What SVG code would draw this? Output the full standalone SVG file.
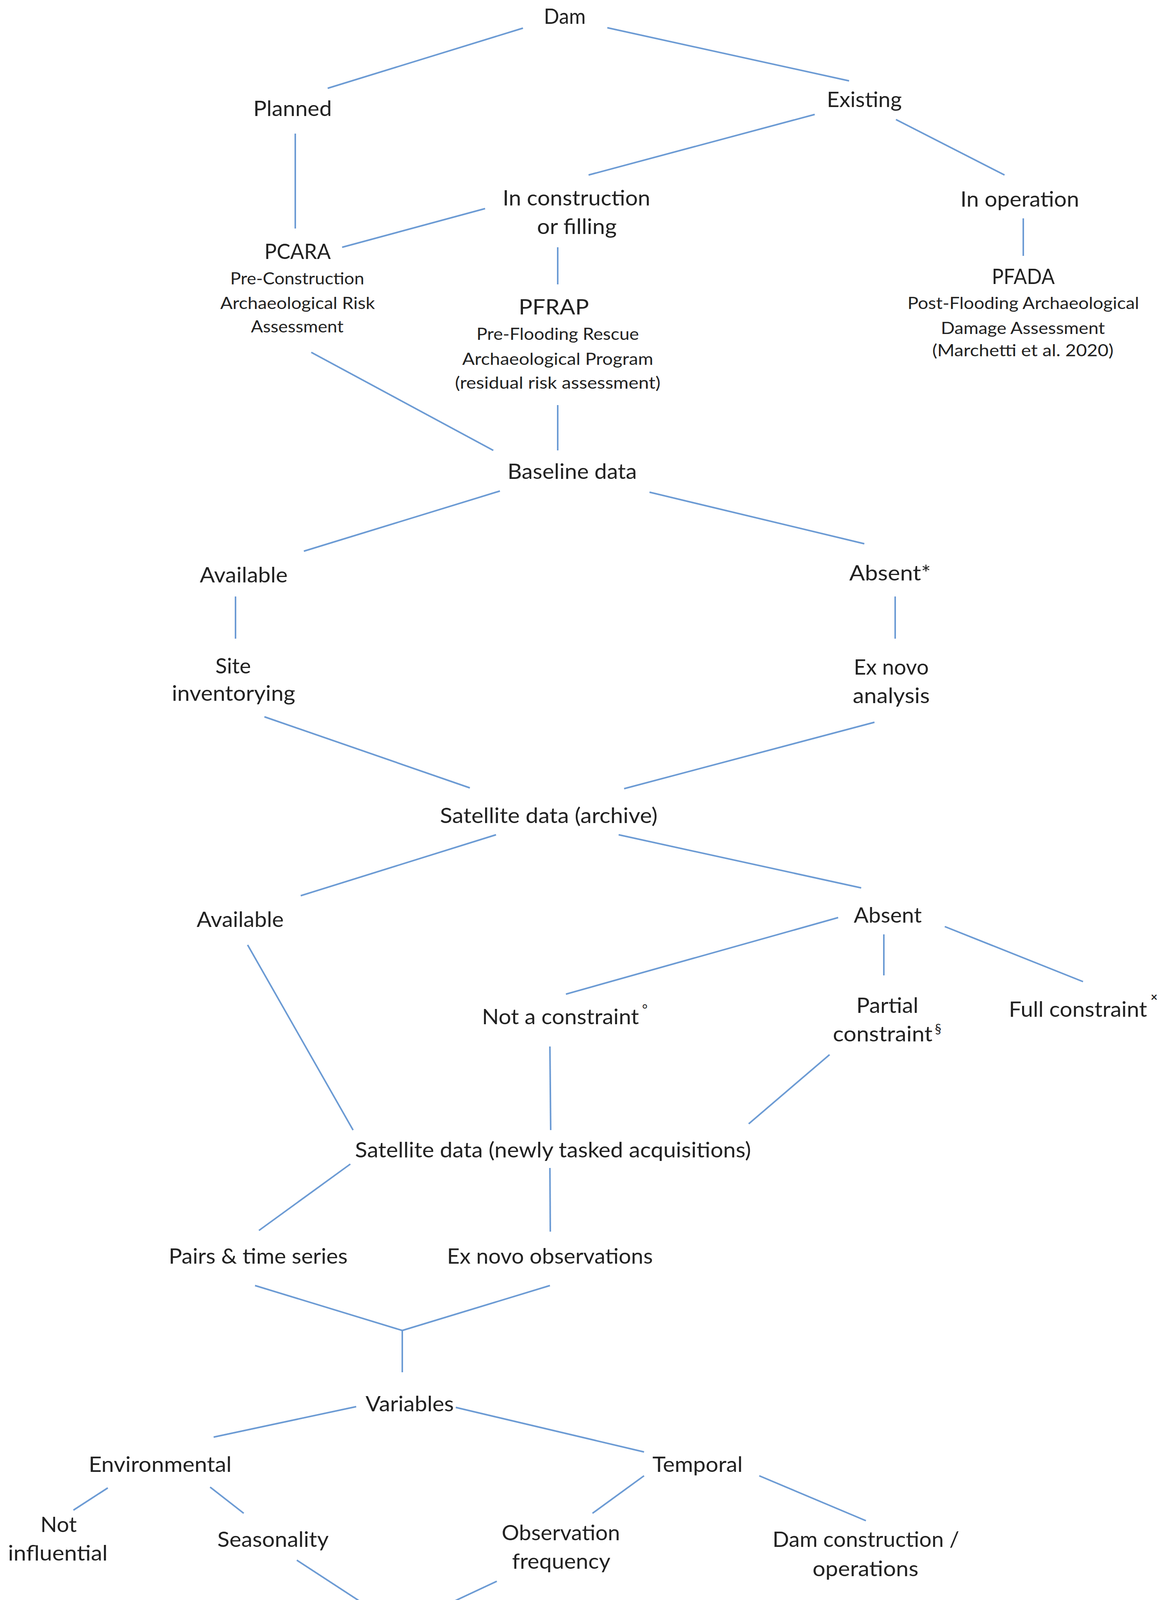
<svg xmlns="http://www.w3.org/2000/svg" width="2988" height="4940" viewBox="0 0 2988 4940">
<style>
.t{font-family:Lato,"Liberation Sans",sans-serif;font-size:54px;fill:#222;text-anchor:middle}
.s{font-size:43px}
.sup{font-family:Lato,"Liberation Sans",sans-serif;font-size:34px;fill:#222;text-anchor:middle}
.c line{stroke:#6c9bd4;stroke-width:4;stroke-linecap:butt;fill:none}
</style>
<rect width="2988" height="4940" fill="#fff"/>
<g id="connectors" class="c">
<line x1="1339" y1="72" x2="839" y2="226"/>
<line x1="1555" y1="71" x2="2174" y2="207"/>
<line x1="756" y1="342" x2="756" y2="585"/>
<line x1="2086" y1="293" x2="1507" y2="448"/>
<line x1="2294" y1="306" x2="2572" y2="448"/>
<line x1="1242" y1="534" x2="876" y2="633"/>
<line x1="1428" y1="633" x2="1428" y2="728"/>
<line x1="2620" y1="559" x2="2620" y2="655"/>
<line x1="797" y1="902" x2="1263" y2="1153"/>
<line x1="1428" y1="1037" x2="1428" y2="1153"/>
<line x1="1280" y1="1257" x2="778" y2="1411"/>
<line x1="1663" y1="1260" x2="2213" y2="1392"/>
<line x1="603" y1="1527" x2="603" y2="1635"/>
<line x1="2292" y1="1527" x2="2292" y2="1635"/>
<line x1="677" y1="1835" x2="1203" y2="2017"/>
<line x1="2239" y1="1849" x2="1598" y2="2019"/>
<line x1="1270" y1="2137" x2="770" y2="2293"/>
<line x1="1584" y1="2137" x2="2205" y2="2273"/>
<line x1="634" y1="2419" x2="904" y2="2893"/>
<line x1="2146" y1="2349" x2="1449" y2="2545"/>
<line x1="2263" y1="2392" x2="2263" y2="2497"/>
<line x1="2419" y1="2372" x2="2773" y2="2513"/>
<line x1="1408" y1="2679" x2="1410" y2="2893"/>
<line x1="2124" y1="2700" x2="1917" y2="2877"/>
<line x1="897" y1="2980" x2="663" y2="3150"/>
<line x1="1408" y1="2990" x2="1409" y2="3153"/>
<line x1="653" y1="3291" x2="1030" y2="3406"/>
<line x1="1408" y1="3291" x2="1030" y2="3406"/>
<line x1="1030" y1="3406" x2="1030" y2="3513"/>
<line x1="912" y1="3601" x2="547" y2="3679"/>
<line x1="1167" y1="3603" x2="1649" y2="3717"/>
<line x1="276" y1="3809" x2="188" y2="3866"/>
<line x1="538" y1="3807" x2="624" y2="3874"/>
<line x1="1649" y1="3778" x2="1517" y2="3874"/>
<line x1="1944" y1="3778" x2="2217" y2="3893"/>
<line x1="760" y1="3994" x2="1022" y2="4165"/>
<line x1="1272" y1="4048" x2="1022" y2="4165"/>
<line x1="1022" y1="4165" x2="1022" y2="4271"/>
<line x1="1022" y1="4357" x2="1022" y2="4462"/>
<line x1="1378" y1="4573" x2="1746" y2="4573"/>
<line x1="1022" y1="4659" x2="1022" y2="4766"/>
</g>
<g id="n-dam"><text class="t" x="1446" y="61" textLength="107" lengthAdjust="spacingAndGlyphs">Dam</text></g>
<g id="n-planned"><text class="t" x="749" y="297" textLength="201" lengthAdjust="spacingAndGlyphs">Planned</text></g>
<g id="n-existing"><text class="t" x="2213" y="274" textLength="192" lengthAdjust="spacingAndGlyphs">Existing</text></g>
<g id="n-inconstruction">
<text class="t" x="1476" y="526" textLength="378" lengthAdjust="spacingAndGlyphs">In construction</text>
<text class="t" x="1477" y="599" textLength="204" lengthAdjust="spacingAndGlyphs">or filling</text>
</g>
<g id="n-inoperation"><text class="t" x="2611" y="529" textLength="304" lengthAdjust="spacingAndGlyphs">In operation</text></g>
<g id="n-pcara">
<text class="t" x="762" y="663" textLength="170" lengthAdjust="spacingAndGlyphs">PCARA</text>
<text class="t s" x="761" y="728" textLength="343" lengthAdjust="spacingAndGlyphs">Pre-Construction</text>
<text class="t s" x="762" y="791" textLength="396" lengthAdjust="spacingAndGlyphs">Archaeological Risk</text>
<text class="t s" x="761" y="851" textLength="237" lengthAdjust="spacingAndGlyphs">Assessment</text>
</g>
<g id="n-pfrap">
<text class="t" x="1418" y="805" textLength="180" lengthAdjust="spacingAndGlyphs">PFRAP</text>
<text class="t s" x="1428" y="870" textLength="416" lengthAdjust="spacingAndGlyphs">Pre-Flooding Rescue</text>
<text class="t s" x="1428" y="934" textLength="489" lengthAdjust="spacingAndGlyphs">Archaeological Program</text>
<text class="t s" x="1428" y="995" textLength="526" lengthAdjust="spacingAndGlyphs">(residual risk assessment)</text>
</g>
<g id="n-pfada">
<text class="t" x="2620" y="727" textLength="161" lengthAdjust="spacingAndGlyphs">PFADA</text>
<text class="t s" x="2620" y="791" textLength="593" lengthAdjust="spacingAndGlyphs">Post-Flooding Archaeological</text>
<text class="t s" x="2619" y="855" textLength="420" lengthAdjust="spacingAndGlyphs">Damage Assessment</text>
<text class="t s" x="2619" y="912" textLength="464" lengthAdjust="spacingAndGlyphs">(Marchetti et al. 2020)</text>
</g>
<g id="n-baseline"><text class="t" x="1465" y="1226" textLength="331" lengthAdjust="spacingAndGlyphs">Baseline data</text></g>
<g id="n-available1"><text class="t" x="624" y="1491" textLength="225" lengthAdjust="spacingAndGlyphs">Available</text></g>
<g id="n-absent1"><text class="t" x="2279" y="1486" textLength="209" lengthAdjust="spacingAndGlyphs">Absent*</text></g>
<g id="n-site">
<text class="t" x="597" y="1724" textLength="91" lengthAdjust="spacingAndGlyphs">Site</text>
<text class="t" x="598" y="1794" textLength="316" lengthAdjust="spacingAndGlyphs">inventorying</text>
</g>
<g id="n-exnovo">
<text class="t" x="2282" y="1727" textLength="192" lengthAdjust="spacingAndGlyphs">Ex novo</text>
<text class="t" x="2282" y="1800" textLength="197" lengthAdjust="spacingAndGlyphs">analysis</text>
</g>
<g id="n-satarchive"><text class="t" x="1405" y="2107" textLength="557" lengthAdjust="spacingAndGlyphs">Satellite data (archive)</text></g>
<g id="n-available2"><text class="t" x="615" y="2373" textLength="223" lengthAdjust="spacingAndGlyphs">Available</text></g>
<g id="n-absent2"><text class="t" x="2273" y="2362" textLength="174" lengthAdjust="spacingAndGlyphs">Absent</text></g>
<g id="n-notconstraint">
<text class="t" x="1435" y="2622" textLength="402" lengthAdjust="spacingAndGlyphs">Not a constraint</text>
<text class="sup" x="1651" y="2596">°</text>
</g>
<g id="n-partial">
<text class="t" x="2272" y="2593" textLength="159" lengthAdjust="spacingAndGlyphs">Partial</text>
<text class="t" x="2260" y="2666" textLength="255" lengthAdjust="spacingAndGlyphs">constraint</text>
<text class="sup" x="2402" y="2646">§</text>
</g>
<g id="n-full">
<text class="t" x="2760" y="2603" textLength="354" lengthAdjust="spacingAndGlyphs">Full constraint</text>
<text class="sup" x="2955" y="2563" style="font-size:30px;font-weight:bold">×</text>
</g>
<g id="n-satnew"><text class="t" x="1416" y="2963" textLength="1014" lengthAdjust="spacingAndGlyphs">Satellite data (newly tasked acquisitions)</text></g>
<g id="n-pairs"><text class="t" x="661" y="3235" textLength="458" lengthAdjust="spacingAndGlyphs">Pairs &amp; time series</text></g>
<g id="n-exnovoobs"><text class="t" x="1408" y="3235" textLength="527" lengthAdjust="spacingAndGlyphs">Ex novo observations</text></g>
<g id="n-variables"><text class="t" x="1049" y="3613" textLength="226" lengthAdjust="spacingAndGlyphs">Variables</text></g>
<g id="n-environmental"><text class="t" x="410" y="3768" textLength="366" lengthAdjust="spacingAndGlyphs">Environmental</text></g>
<g id="n-temporal"><text class="t" x="1786" y="3768" textLength="231" lengthAdjust="spacingAndGlyphs">Temporal</text></g>
<g id="n-notinfluential">
<text class="t" x="150" y="3922" textLength="93" lengthAdjust="spacingAndGlyphs">Not</text>
<text class="t" x="148" y="3995" textLength="255" lengthAdjust="spacingAndGlyphs">influential</text>
</g>
<g id="n-seasonality"><text class="t" x="699" y="3960" textLength="285" lengthAdjust="spacingAndGlyphs">Seasonality</text></g>
<g id="n-obsfreq">
<text class="t" x="1436" y="3943" textLength="303" lengthAdjust="spacingAndGlyphs">Observation</text>
<text class="t" x="1437" y="4016" textLength="252" lengthAdjust="spacingAndGlyphs">frequency</text>
</g>
<g id="n-damconstr">
<text class="t" x="2217" y="3960" textLength="478" lengthAdjust="spacingAndGlyphs">Dam construction /</text>
<text class="t" x="2216" y="4035" textLength="271" lengthAdjust="spacingAndGlyphs">operations</text>
</g>
<g id="n-dataprocessing"><text class="t" x="1031" y="4339" textLength="393" lengthAdjust="spacingAndGlyphs">Data processing</text></g>
<g id="n-manual">
<text class="t" x="1029" y="4543" textLength="547" lengthAdjust="spacingAndGlyphs">Manual surveying and</text>
<text class="t" x="1011" y="4635" textLength="435" lengthAdjust="spacingAndGlyphs">site identification</text>
<text class="sup" x="1256" y="4614">¤</text>
</g>
<g id="n-info">
<text class="t" x="2072" y="4526" textLength="457" lengthAdjust="spacingAndGlyphs">Information about</text>
<text class="t" x="2073" y="4600" textLength="610" lengthAdjust="spacingAndGlyphs">reservoir and associated</text>
<text class="t" x="2073" y="4674" textLength="370" lengthAdjust="spacingAndGlyphs">infrastructures</text>
</g>
<g id="n-mapped">
<text class="t" x="1029" y="4836" textLength="388" lengthAdjust="spacingAndGlyphs">Mapped sites &amp;</text>
<text class="t" x="1030" y="4908" textLength="390" lengthAdjust="spacingAndGlyphs">risk assessment</text>
</g>
</svg>
